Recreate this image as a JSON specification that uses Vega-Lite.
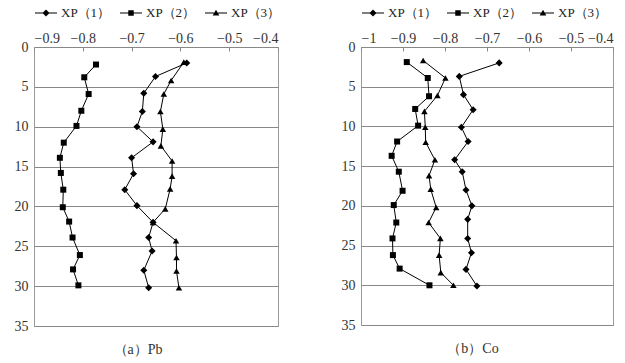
{
  "$schema": "https://vega.github.io/schema/vega-lite/v6.json",
  "background": "white",
  "padding": {"left": 13, "right": 5, "top": 0, "bottom": 5},
  "config": {
    "font": "Liberation Serif",
    "view": {"stroke": "#999999", "strokeWidth": 1},
    "axis": {"labelFont": "Liberation Serif", "labelFontSize": 14, "labelColor": "#333333", "title": null, "labelOverlap": false, "labelBound": false},
    "legend": {"labelFont": "Liberation Serif", "labelFontSize": 13, "labelColor": "#222222"},
    "title": {"font": "Liberation Serif", "fontSize": 14, "fontWeight": "normal", "color": "#333333", "orient": "bottom", "offset": 10}
  },
  "datasets": {
    "pb": [
      {"series": "XP（1）", "depth": 2.0, "value": -0.587},
      {"series": "XP（1）", "depth": 3.7, "value": -0.651},
      {"series": "XP（1）", "depth": 5.8, "value": -0.675},
      {"series": "XP（1）", "depth": 8.1, "value": -0.678},
      {"series": "XP（1）", "depth": 10.0, "value": -0.689},
      {"series": "XP（1）", "depth": 11.9, "value": -0.656},
      {"series": "XP（1）", "depth": 13.9, "value": -0.700},
      {"series": "XP（1）", "depth": 15.9, "value": -0.696},
      {"series": "XP（1）", "depth": 17.9, "value": -0.714},
      {"series": "XP（1）", "depth": 19.9, "value": -0.689},
      {"series": "XP（1）", "depth": 22.0, "value": -0.656},
      {"series": "XP（1）", "depth": 23.9, "value": -0.665},
      {"series": "XP（1）", "depth": 25.6, "value": -0.658},
      {"series": "XP（1）", "depth": 28.0, "value": -0.675},
      {"series": "XP（1）", "depth": 30.2, "value": -0.665},
      {"series": "XP（2）", "depth": 2.2, "value": -0.773},
      {"series": "XP（2）", "depth": 3.8, "value": -0.797},
      {"series": "XP（2）", "depth": 5.9, "value": -0.788},
      {"series": "XP（2）", "depth": 8.0, "value": -0.803},
      {"series": "XP（2）", "depth": 9.9, "value": -0.813},
      {"series": "XP（2）", "depth": 12.0, "value": -0.839},
      {"series": "XP（2）", "depth": 13.9, "value": -0.847},
      {"series": "XP（2）", "depth": 15.8, "value": -0.845},
      {"series": "XP（2）", "depth": 17.9, "value": -0.840},
      {"series": "XP（2）", "depth": 20.1, "value": -0.841},
      {"series": "XP（2）", "depth": 21.9, "value": -0.828},
      {"series": "XP（2）", "depth": 23.9, "value": -0.821},
      {"series": "XP（2）", "depth": 26.1, "value": -0.806},
      {"series": "XP（2）", "depth": 27.9, "value": -0.820},
      {"series": "XP（2）", "depth": 29.9, "value": -0.809},
      {"series": "XP（3）", "depth": 1.9, "value": -0.593},
      {"series": "XP（3）", "depth": 4.2, "value": -0.619},
      {"series": "XP（3）", "depth": 5.9, "value": -0.634},
      {"series": "XP（3）", "depth": 8.1, "value": -0.641},
      {"series": "XP（3）", "depth": 10.3, "value": -0.636},
      {"series": "XP（3）", "depth": 12.4, "value": -0.640},
      {"series": "XP（3）", "depth": 14.3, "value": -0.617},
      {"series": "XP（3）", "depth": 16.2, "value": -0.617},
      {"series": "XP（3）", "depth": 17.8, "value": -0.621},
      {"series": "XP（3）", "depth": 20.3, "value": -0.631},
      {"series": "XP（3）", "depth": 22.0, "value": -0.656},
      {"series": "XP（3）", "depth": 24.3, "value": -0.609},
      {"series": "XP（3）", "depth": 26.4, "value": -0.608},
      {"series": "XP（3）", "depth": 28.1, "value": -0.608},
      {"series": "XP（3）", "depth": 30.2, "value": -0.603}
    ],
    "co": [
      {"series": "XP（1）", "depth": 2.0, "value": -0.671},
      {"series": "XP（1）", "depth": 3.7, "value": -0.766},
      {"series": "XP（1）", "depth": 6.0, "value": -0.756},
      {"series": "XP（1）", "depth": 7.9, "value": -0.733},
      {"series": "XP（1）", "depth": 10.1, "value": -0.761},
      {"series": "XP（1）", "depth": 11.9, "value": -0.745},
      {"series": "XP（1）", "depth": 14.2, "value": -0.777},
      {"series": "XP（1）", "depth": 15.7, "value": -0.759},
      {"series": "XP（1）", "depth": 18.0, "value": -0.750},
      {"series": "XP（1）", "depth": 20.0, "value": -0.736},
      {"series": "XP（1）", "depth": 21.7, "value": -0.746},
      {"series": "XP（1）", "depth": 24.1, "value": -0.746},
      {"series": "XP（1）", "depth": 25.9, "value": -0.737},
      {"series": "XP（1）", "depth": 28.0, "value": -0.750},
      {"series": "XP（1）", "depth": 30.1, "value": -0.724},
      {"series": "XP（2）", "depth": 1.9, "value": -0.891},
      {"series": "XP（2）", "depth": 3.9, "value": -0.841},
      {"series": "XP（2）", "depth": 6.2, "value": -0.838},
      {"series": "XP（2）", "depth": 7.8, "value": -0.871},
      {"series": "XP（2）", "depth": 9.9, "value": -0.864},
      {"series": "XP（2）", "depth": 11.9, "value": -0.914},
      {"series": "XP（2）", "depth": 13.7, "value": -0.927},
      {"series": "XP（2）", "depth": 15.7, "value": -0.910},
      {"series": "XP（2）", "depth": 18.1, "value": -0.901},
      {"series": "XP（2）", "depth": 19.9, "value": -0.922},
      {"series": "XP（2）", "depth": 22.1, "value": -0.916},
      {"series": "XP（2）", "depth": 24.1, "value": -0.925},
      {"series": "XP（2）", "depth": 26.2, "value": -0.924},
      {"series": "XP（2）", "depth": 27.9, "value": -0.908},
      {"series": "XP（2）", "depth": 30.0, "value": -0.837},
      {"series": "XP（3）", "depth": 1.7, "value": -0.852},
      {"series": "XP（3）", "depth": 3.9, "value": -0.799},
      {"series": "XP（3）", "depth": 6.1, "value": -0.818},
      {"series": "XP（3）", "depth": 8.1, "value": -0.849},
      {"series": "XP（3）", "depth": 10.1, "value": -0.847},
      {"series": "XP（3）", "depth": 12.0, "value": -0.846},
      {"series": "XP（3）", "depth": 14.2, "value": -0.824},
      {"series": "XP（3）", "depth": 16.2, "value": -0.838},
      {"series": "XP（3）", "depth": 17.9, "value": -0.834},
      {"series": "XP（3）", "depth": 20.2, "value": -0.821},
      {"series": "XP（3）", "depth": 22.1, "value": -0.839},
      {"series": "XP（3）", "depth": 24.1, "value": -0.811},
      {"series": "XP（3）", "depth": 26.2, "value": -0.814},
      {"series": "XP（3）", "depth": 28.4, "value": -0.810},
      {"series": "XP（3）", "depth": 30.0, "value": -0.780}
    ]
  },
  "resolve": {"legend": {"shape": "independent"}, "scale": {"shape": "independent"}},
  "spacing": 58,
  "hconcat": [
    {
      "title": {"text": "（a）Pb", "dx": -18},
      "width": 244,
      "height": 279,
      "data": {"name": "pb"},
      "encoding": {
        "x": {"field": "value", "type": "quantitative",
              "scale": {"domain": [-0.9, -0.4], "nice": false, "zero": false},
              "axis": {"orient": "top", "values": [-0.9, -0.8, -0.7, -0.6, -0.5, -0.4], "format": ".1f", "grid": false, "domain": false, "tickSize": -4, "tickColor": "#888888", "labelPadding": 6}},
        "y": {"field": "depth", "type": "quantitative",
              "scale": {"domain": [0, 35], "reverse": true, "nice": false},
              "axis": {"values": [0, 5, 10, 15, 20, 25, 30, 35], "grid": true, "gridColor": "#888888", "gridOpacity": 1, "domain": false, "ticks": false, "labelPadding": 6}}
      },
      "layer": [
        {"mark": {"type": "line", "color": "black", "strokeWidth": 1}, "encoding": {"detail": {"field": "series"}, "order": {"field": "depth", "type": "quantitative"}}},
        {"transform": [{"filter": "datum.series === 'XP（1）'"}], "mark": {"type": "point", "shape": "diamond", "filled": true, "color": "black", "size": 50, "opacity": 1}, "encoding": {}},
        {"transform": [{"filter": "datum.series === 'XP（2）'"}], "mark": {"type": "point", "shape": "square", "filled": true, "color": "black", "size": 36, "opacity": 1}, "encoding": {}},
        {"transform": [{"filter": "datum.series === 'XP（3）'"}], "mark": {"type": "point", "shape": "triangle-up", "filled": true, "color": "black", "size": 42, "opacity": 1}, "encoding": {}},
        {"transform": [{"filter": "datum.depth < 0"}],
         "mark": {"type": "point", "filled": true, "color": "black", "opacity": 1},
         "encoding": {"shape": {"field": "series", "type": "nominal",
            "scale": {"domain": ["XP（1）", "XP（2）", "XP（3）"], "range": ["M-1,-0.045H1V0.045H-1ZM0,-0.32L0.32,0L0,0.32L-0.32,0Z", "M-1,-0.045H1V0.045H-1ZM-0.25,-0.25H0.25V0.25H-0.25Z", "M-1,-0.045H1V0.045H-1ZM0,-0.3L0.3,0.22H-0.3Z"]},
            "legend": {"orient": "top", "title": null, "direction": "horizontal", "symbolSize": 484, "symbolFillColor": "black", "symbolOpacity": 1, "columnPadding": 6, "labelOffset": 3, "offset": 11}}}}
      ]
    },
    {
      "title": {"text": "（b）Co", "dx": -14},
      "width": 252,
      "height": 278,
      "data": {"name": "co"},
      "encoding": {
        "x": {"field": "value", "type": "quantitative",
              "scale": {"domain": [-1, -0.4], "nice": false, "zero": false},
              "axis": {"orient": "top", "values": [-1, -0.9, -0.8, -0.7, -0.6, -0.5, -0.4], "labelExpr": "datum.value === -1 ? '−1' : format(datum.value, '.1f')", "grid": false, "domain": false, "tickSize": -4, "tickColor": "#888888", "labelPadding": 6}},
        "y": {"field": "depth", "type": "quantitative",
              "scale": {"domain": [0, 35], "reverse": true, "nice": false},
              "axis": {"values": [0, 5, 10, 15, 20, 25, 30, 35], "grid": true, "gridColor": "#888888", "gridOpacity": 1, "domain": false, "ticks": false, "labelPadding": 6}}
      },
      "layer": [
        {"mark": {"type": "line", "color": "black", "strokeWidth": 1}, "encoding": {"detail": {"field": "series"}, "order": {"field": "depth", "type": "quantitative"}}},
        {"transform": [{"filter": "datum.series === 'XP（1）'"}], "mark": {"type": "point", "shape": "diamond", "filled": true, "color": "black", "size": 50, "opacity": 1}, "encoding": {}},
        {"transform": [{"filter": "datum.series === 'XP（2）'"}], "mark": {"type": "point", "shape": "square", "filled": true, "color": "black", "size": 36, "opacity": 1}, "encoding": {}},
        {"transform": [{"filter": "datum.series === 'XP（3）'"}], "mark": {"type": "point", "shape": "triangle-up", "filled": true, "color": "black", "size": 42, "opacity": 1}, "encoding": {}},
        {"transform": [{"filter": "datum.depth < 0"}],
         "mark": {"type": "point", "filled": true, "color": "black", "opacity": 1},
         "encoding": {"shape": {"field": "series", "type": "nominal",
            "scale": {"domain": ["XP（1）", "XP（2）", "XP（3）"], "range": ["M-1,-0.045H1V0.045H-1ZM0,-0.32L0.32,0L0,0.32L-0.32,0Z", "M-1,-0.045H1V0.045H-1ZM-0.25,-0.25H0.25V0.25H-0.25Z", "M-1,-0.045H1V0.045H-1ZM0,-0.3L0.3,0.22H-0.3Z"]},
            "legend": {"orient": "top", "title": null, "direction": "horizontal", "symbolSize": 484, "symbolFillColor": "black", "symbolOpacity": 1, "columnPadding": 6, "labelOffset": 3, "offset": 11}}}}
      ]
    }
  ]
}
